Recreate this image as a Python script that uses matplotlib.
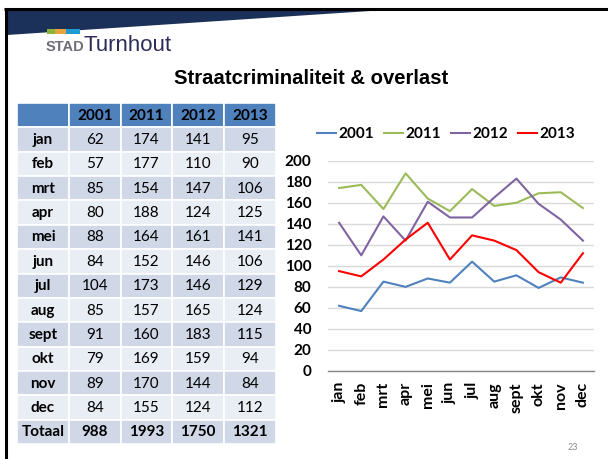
import matplotlib
matplotlib.use("Agg")
import matplotlib.pyplot as plt
from matplotlib.patches import Rectangle, Polygon

months = ["jan", "feb", "mrt", "apr", "mei", "jun", "jul", "aug", "sept", "okt", "nov", "dec"]
years = ["2001", "2011", "2012", "2013"]
v2001 = [62, 57, 85, 80, 88, 84, 104, 85, 91, 79, 89, 84]
v2011 = [174, 177, 154, 188, 164, 152, 173, 157, 160, 169, 170, 155]
v2012 = [141, 110, 147, 124, 161, 146, 146, 165, 183, 159, 144, 124]
v2013 = [95, 90, 106, 125, 141, 106, 129, 124, 115, 94, 84, 112]
totals = [988, 1993, 1750, 1321]
series = [v2001, v2011, v2012, v2013]
colors = ["#4F81BD", "#9BBB59", "#8064A2", "#FF0000"]
yticks = [0, 20, 40, 60, 80, 100, 120, 140, 160, 180, 200]

W, H = 608, 459
fig = plt.figure(figsize=(W / 100, H / 100), dpi=100)
fig.patch.set_facecolor("white")

CAL = ["Lato", "DejaVu Sans"]
NARROW = ["Liberation Sans Narrow", "Liberation Sans", "DejaVu Sans"]

# background / decoration axis in pixel coords
bg = fig.add_axes([0, 0, 1, 1])
bg.set_xlim(0, W)
bg.set_ylim(H, 0)
bg.axis("off")

# slide frame
bg.add_patch(Polygon([(7, 10), (385, 10), (7, 35)], closed=True, color="#1C3159", lw=0))
bg.plot([4, W], [9, 9], color="black", lw=2.2, solid_capstyle="butt")
bg.plot([5.5, 5.5], [8, H], color="black", lw=2.2, solid_capstyle="butt")

# logo
bg.add_patch(Rectangle((47, 29), 8, 5, color="#8DB33A", lw=0))
bg.add_patch(Rectangle((55, 29), 11, 5, color="#E8A33D", lw=0))
bg.add_patch(Rectangle((66, 29), 14, 5, color="#1E9BD0", lw=0))
bg.text(46, 51, "STAD", fontsize=10.5, fontweight="bold", color="#6E6E78",
        family=NARROW, ha="left", va="baseline")
bg.text(84, 51, "Turnhout", fontsize=16, color="#2E2D5A",
        family=NARROW, ha="left", va="baseline")

# title
bg.text(311, 84, "Straatcriminaliteit & overlast", fontsize=14.6, fontweight="bold",
        color="black", family=NARROW, ha="center", va="baseline")

# page number
bg.text(573, 448, "23", fontsize=6.5, color="#8C8C8C", family=CAL, ha="center", va="center")

# table
col_x = [17, 69, 121, 172, 224, 276]
top = 103
rh = (444 - 103) / 14
header = [""] + years
rows = [[m] + [str(s[i]) for s in series] for i, m in enumerate(months)]
rows.append(["Totaal"] + [str(t) for t in totals])
all_rows = [header] + rows
for r, row in enumerate(all_rows):
    y0 = top + r * rh
    if r == 0:
        fc = "#4F81BD"
    elif r % 2 == 1:
        fc = "#D0D8E8"
    else:
        fc = "#E9EDF4"
    for c in range(5):
        x0 = col_x[c]
        bg.add_patch(Rectangle((x0, y0), col_x[c + 1] - x0, rh, facecolor=fc,
                               edgecolor="white", lw=1.2))
        bold = (r == 0) or (c == 0) or (r == len(all_rows) - 1)
        bg.text((x0 + col_x[c + 1]) / 2, y0 + rh / 2 + 0.5, row[c], fontsize=11,
                fontweight="bold" if bold else "normal", color="black",
                family=CAL, ha="center", va="center")

# chart
left, right = 328, 594
ytop, ybot = 160.7, 371
ax = fig.add_axes([left / W, 1 - ybot / H, (right - left) / W, (ybot - ytop) / H])
ax.set_facecolor("none")
x = list(range(len(months)))
for s, c, yname in zip(series, colors, years):
    ax.plot(x, s, color=c, lw=1.5, label=yname, zorder=3)
ax.set_xlim(-0.5, len(months) - 0.5)
ax.set_ylim(0, 200)
ax.set_yticks(yticks)
ax.set_yticklabels([str(t) for t in yticks], fontsize=11, fontweight="bold", family=CAL)
ax.set_xticks(x)
ax.set_xticklabels(months, rotation=90, fontsize=11.5, fontweight="bold", family=CAL)
ax.grid(axis="y", color="#D9D9D9", lw=1)
ax.set_axisbelow(True)
for sp in ["top", "right", "left"]:
    ax.spines[sp].set_visible(False)
ax.spines["bottom"].set_color("#868686")
ax.spines["bottom"].set_linewidth(1)
ax.tick_params(axis="both", length=0)
ax.tick_params(axis="y", pad=12)
ax.tick_params(axis="x", pad=8)

leg = fig.legend(loc="center", bbox_to_anchor=(446 / W, 1 - 134 / H), ncol=4,
                 frameon=False, handlelength=1.2, handletextpad=0.15,
                 columnspacing=0.7, prop={"family": CAL, "weight": "bold", "size": 11})

fig.savefig("out.png", dpi=100, facecolor="white")
